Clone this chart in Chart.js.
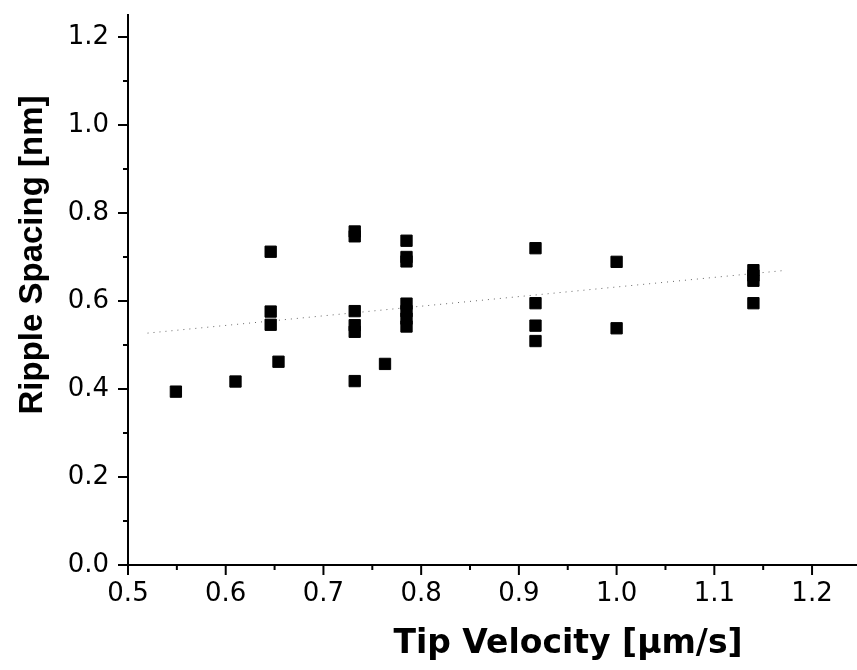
<!DOCTYPE html>
<html>
<head>
<meta charset="utf-8">
<script src="https://cdn.jsdelivr.net/npm/chart.js@4.4.0/dist/chart.umd.min.js"></script>
<style>
  body { margin: 0; background: white; }
</style>
</head>
<body>
<canvas id="rippleChart" width="857" height="670"></canvas>
<script>
const velocities = [
  0.549, 0.61, 0.646, 0.646, 0.646, 0.654,
  0.732, 0.732, 0.732, 0.732, 0.732, 0.732, 0.763,
  0.785, 0.785, 0.785, 0.785, 0.785, 0.785, 0.785,
  0.917, 0.917, 0.917, 0.917, 1.0, 1.0,
  1.14, 1.14, 1.14, 1.14,
];
const spacings = [
  0.394, 0.417, 0.712, 0.576, 0.546, 0.462,
  0.758, 0.747, 0.577, 0.545, 0.53, 0.418, 0.457,
  0.737, 0.7, 0.69, 0.594, 0.577, 0.56, 0.542,
  0.72, 0.595, 0.544, 0.509, 0.689, 0.538,
  0.67, 0.658, 0.646, 0.595,
];
// linear fit drawn as a dotted line
const fitX = [0.52, 1.17];
const fitY = [0.527, 0.669];

const xTicks = [0.5, 0.55, 0.6, 0.65, 0.7, 0.75, 0.8, 0.85, 0.9, 0.95, 1.0, 1.05, 1.1, 1.15, 1.2];
const yTicks = [0.0, 0.1, 0.2, 0.3, 0.4, 0.5, 0.6, 0.7, 0.8, 0.9, 1.0, 1.1, 1.2];
const xTitle = "Tip Velocity [\u03bcm/s]";
const yTitle = "Ripple Spacing [nm]";

const isMajorX = (v) => Math.abs(v * 10 - Math.round(v * 10)) < 1e-6;
const isMajorY = (v) => isMajorX(v) && Math.round(v * 10) % 2 === 0;

const tickFont = { family: "DejaVu Sans", size: 26 };

// tick marks and axis titles, placed like the original figure
const axisExtras = {
  id: "axisExtras",
  afterDraw(chart) {
    const ctx = chart.ctx;
    const xs = chart.scales.x;
    const ys = chart.scales.y;
    ctx.save();
    ctx.strokeStyle = "black";
    ctx.lineWidth = 2;
    xs.ticks.forEach((t) => {
      const px = xs.getPixelForValue(t.value);
      const len = isMajorX(t.value) ? 10 : 5;
      ctx.beginPath();
      ctx.moveTo(px, xs.top);
      ctx.lineTo(px, xs.top + len);
      ctx.stroke();
    });
    ys.ticks.forEach((t) => {
      const py = ys.getPixelForValue(t.value);
      const len = isMajorY(t.value) ? 10 : 5;
      ctx.beginPath();
      ctx.moveTo(ys.right, py);
      ctx.lineTo(ys.right - len, py);
      ctx.stroke();
    });

    ctx.fillStyle = "black";
    ctx.textAlign = "center";
    ctx.textBaseline = "alphabetic";
    ctx.font = "bold 33px 'DejaVu Sans'";
    ctx.fillText(xTitle, 568, 653);

    ctx.translate(42, 255);
    ctx.rotate(-Math.PI / 2);
    ctx.font = "bold 33px 'Liberation Sans'";
    ctx.fillText(yTitle, 0, 0);
    ctx.restore();
  },
};

new Chart(document.getElementById("rippleChart"), {
  type: "scatter",
  data: {
    datasets: [
      {
        label: "Ripple spacing",
        data: velocities.map((v, i) => ({ x: v, y: spacings[i] })),
        pointStyle: "rect",
        pointRadius: 8,
        pointBorderWidth: 1,
        backgroundColor: "black",
        borderColor: "black",
        order: 0,
      },
      {
        label: "Fit",
        type: "line",
        data: fitX.map((v, i) => ({ x: v, y: fitY[i] })),
        borderColor: "#666",
        borderWidth: 1,
        borderDash: [1, 5],
        pointRadius: 0,
        order: 1,
      },
    ],
  },
  options: {
    responsive: false,
    animation: false,
    layout: { autoPadding: false, padding: { top: 15, right: 0, left: 0, bottom: 0 } },
    plugins: {
      legend: { display: false },
      tooltip: { enabled: false },
    },
    scales: {
      x: {
        type: "linear",
        min: 0.5,
        max: 1.246,
        afterBuildTicks: (scale) => {
          scale.ticks = xTicks.map((v) => ({ value: v }));
        },
        afterFit: (scale) => {
          scale.height = 105;
          scale.paddingLeft = 0;
          scale.paddingRight = 0;
        },
        grid: { display: false, drawTicks: false },
        border: { display: true, color: "black", width: 2 },
        ticks: {
          autoSkip: false,
          maxRotation: 0,
          padding: 14,
          color: "black",
          font: tickFont,
          callback: (v) => (isMajorX(v) ? v.toFixed(1) : ""),
        },
      },
      y: {
        type: "linear",
        min: 0,
        max: 1.25,
        afterBuildTicks: (scale) => {
          scale.ticks = yTicks.map((v) => ({ value: v }));
        },
        afterFit: (scale) => {
          scale.width = 128;
          scale.paddingTop = 0;
          scale.paddingBottom = 0;
        },
        grid: { display: false, drawTicks: false },
        border: { display: true, color: "black", width: 2 },
        ticks: {
          autoSkip: false,
          padding: 19,
          color: "black",
          font: tickFont,
          callback: (v) => (isMajorY(v) ? v.toFixed(1) : ""),
        },
      },
    },
  },
  plugins: [axisExtras],
});
</script>
</body>
</html>
